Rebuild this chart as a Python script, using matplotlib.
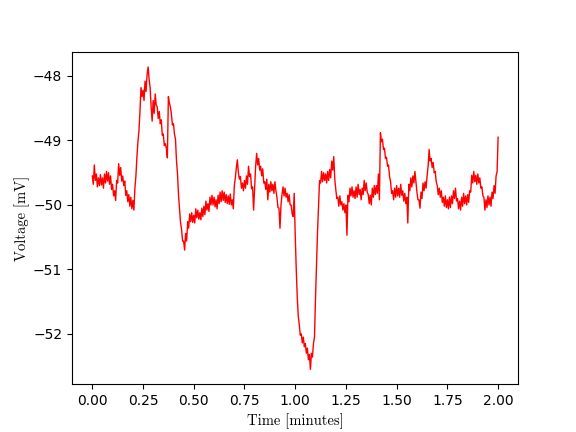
import numpy as np
import matplotlib
matplotlib.use('Agg')
import matplotlib.pyplot as plt

voltage = [
    -49.55, -49.68, -49.38, -49.62, -49.52, -49.72, -49.58, -49.70, -49.53, -49.69,
    -49.58, -49.74, -49.52, -49.66, -49.48, -49.63, -49.50, -49.68, -49.55, -49.76,
    -49.68, -49.86, -49.78, -49.93, -49.62, -49.66, -49.36, -49.54, -49.42, -49.63,
    -49.55, -49.70, -49.63, -49.85, -49.78, -49.95, -49.84, -50.02, -49.88, -50.06,
    -49.93, -50.08, -49.74, -49.55, -49.25, -49.02, -48.85, -48.55, -48.18, -48.32,
    -48.22, -48.38, -48.08, -48.24, -47.98, -47.86, -48.05, -48.18, -48.48, -48.70,
    -48.38, -48.58, -48.28, -48.45, -48.48, -48.66, -48.55, -48.74, -48.68, -48.92,
    -48.90, -49.08, -49.05, -49.12, -49.27, -48.32, -48.42, -48.48, -48.60, -48.76,
    -48.74, -48.90, -48.98, -49.32, -49.52, -49.85, -50.06, -50.28, -50.38, -50.56,
    -50.56, -50.70, -50.44, -50.56, -50.26, -50.36, -50.14, -50.26, -50.12, -50.27,
    -50.16, -50.28, -50.06, -50.20, -50.08, -50.22, -50.12, -50.23, -50.05, -50.18,
    -50.02, -50.15, -49.94, -50.08, -49.98, -50.10, -49.88, -50.00, -49.85, -50.00,
    -49.88, -50.03, -49.92, -50.06, -49.85, -49.98, -49.80, -49.95, -49.78, -49.93,
    -49.80, -49.96, -49.84, -49.98, -49.86, -49.99, -49.83, -50.00, -49.92, -50.06,
    -49.70, -49.58, -49.42, -49.30, -49.50, -49.60, -49.56, -49.74, -49.66, -49.78,
    -49.62, -49.74, -49.55, -49.68, -49.40, -49.56, -49.52, -49.75, -49.72, -50.08,
    -49.74, -49.40, -49.20, -49.38, -49.28, -49.46, -49.40, -49.55, -49.44, -49.66,
    -49.64, -49.76, -49.60, -49.92, -49.68, -49.80, -49.64, -49.78, -49.68, -49.82,
    -49.64, -49.78, -49.88, -50.04, -50.05, -50.36, -50.00, -49.84, -49.72, -49.86,
    -49.74, -49.88, -49.82, -49.95, -49.84, -50.00, -50.00, -50.14, -50.18, -49.82,
    -50.45, -50.98, -51.42, -51.72, -51.85, -52.02, -52.00, -52.14, -52.05, -52.20,
    -52.15, -52.30, -52.22, -52.40, -52.32, -52.55, -52.30, -52.36, -52.15, -52.05,
    -51.45, -50.92, -50.42, -50.02, -49.62, -49.66, -49.48, -49.64, -49.50, -49.62,
    -49.52, -49.66, -49.48, -49.62, -49.45, -49.58, -49.32, -49.46, -49.25, -49.60,
    -49.76, -49.90, -49.88, -50.02, -49.86, -50.00, -49.95, -50.08, -49.98, -50.12,
    -50.00, -50.47, -49.85, -49.95, -49.74, -49.86, -49.72, -49.88, -49.78, -49.90,
    -49.72, -49.88, -49.68, -49.84, -49.76, -49.92, -49.74, -49.84, -49.62, -49.78,
    -49.66, -49.80, -49.84, -49.98, -49.85, -50.00, -49.74, -49.88, -49.70, -49.84,
    -49.70, -49.82, -49.52, -49.92, -48.88, -49.02, -48.98, -49.14, -49.12, -49.28,
    -49.26, -49.40, -49.38, -49.56, -49.64, -49.82, -49.78, -49.92, -49.74, -49.88,
    -49.70, -49.86, -49.74, -49.88, -49.68, -49.85, -49.78, -49.94, -49.82, -49.98,
    -49.88, -50.28, -49.68, -49.78, -49.58, -49.72, -49.55, -49.66, -49.48, -49.64,
    -49.80, -49.92, -49.92, -50.05, -49.80, -49.90, -49.66, -49.78, -49.64, -49.74,
    -49.55, -49.40, -49.14, -49.32, -49.28, -49.42, -49.34, -49.50, -49.48, -49.64,
    -49.70, -49.84, -49.74, -49.88, -49.78, -49.96, -49.88, -50.02, -49.86, -50.04,
    -49.92, -50.06, -49.88, -50.04, -49.86, -49.98, -49.78, -49.90, -49.74, -49.94,
    -49.90, -50.06, -49.94, -50.08, -49.88, -50.02, -49.82, -49.98, -49.86, -50.00,
    -49.84, -49.96, -49.78, -49.80, -49.54, -49.66, -49.48, -49.64, -49.54, -49.68,
    -49.52, -49.66, -49.58, -49.74, -49.72, -49.86, -49.88, -50.08, -49.92, -50.04,
    -49.86, -50.00, -49.88, -50.02, -49.80, -49.90, -49.70, -49.82, -49.55, -49.48,
    -48.95,
]
t_end = 2.0  # minutes

time = np.linspace(0, t_end, len(voltage))

fig, ax = plt.subplots(figsize=(5.76, 4.32), dpi=100)
ax.plot(time, voltage, color='r', linewidth=1.0)
ax.set_xlabel('Time [minutes]', family='cmr10', size=10.5)
ax.set_ylabel('Voltage [mV]', family='cmr10', size=10.5, labelpad=2)

fig.savefig('out.png', dpi=100)
